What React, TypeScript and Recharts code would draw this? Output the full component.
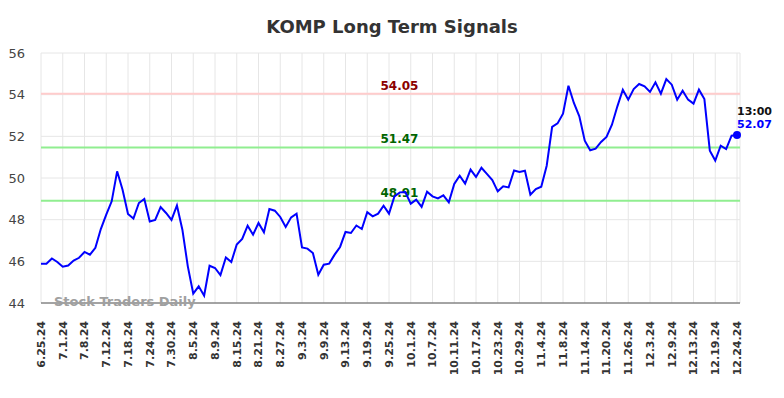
import React from "react";
import {
  LineChart,
  Line,
  XAxis,
  YAxis,
  CartesianGrid,
  ReferenceLine,
} from "recharts";

const tickLabels: string[] = [
  "6.25.24", "7.1.24", "7.8.24", "7.12.24", "7.18.24", "7.24.24", "7.30.24",
  "8.5.24", "8.9.24", "8.15.24", "8.21.24", "8.27.24", "9.3.24", "9.9.24",
  "9.13.24", "9.19.24", "9.25.24", "10.1.24", "10.7.24", "10.11.24",
  "10.17.24", "10.23.24", "10.29.24", "11.4.24", "11.8.24", "11.14.24",
  "11.20.24", "11.26.24", "12.3.24", "12.9.24", "12.13.24", "12.19.24",
  "12.24.24",
];

const prices: number[] = [
  45.89, 45.89, 46.14, 45.97, 45.74, 45.8, 46.04, 46.17, 46.45, 46.32,
  46.65, 47.55, 48.24, 48.88, 50.32, 49.44, 48.27, 48.05, 48.8, 48.99,
  47.91, 47.99, 48.6, 48.32, 47.99, 48.68, 47.52, 45.76, 44.45, 44.8,
  44.35, 45.79, 45.68, 45.34, 46.19, 45.97, 46.81, 47.08, 47.71, 47.28,
  47.84, 47.39, 48.51, 48.43, 48.13, 47.65, 48.11, 48.29, 46.67, 46.61,
  46.4, 45.36, 45.84, 45.89, 46.32, 46.69, 47.41, 47.36, 47.72, 47.55,
  48.36, 48.16, 48.29, 48.67, 48.29, 49.12, 49.31, 49.33, 48.77, 48.96,
  48.61, 49.34, 49.12, 49.02, 49.17, 48.83, 49.71, 50.11, 49.73, 50.4,
  50.05, 50.49, 50.2, 49.9, 49.36, 49.6, 49.55, 50.36, 50.29, 50.35,
  49.2, 49.47, 49.58, 50.59, 52.45, 52.62, 53.09, 54.43, 53.6, 52.96,
  51.79, 51.33, 51.41, 51.73, 51.97, 52.56, 53.44, 54.24, 53.76, 54.27,
  54.51, 54.4, 54.13, 54.59, 54.05, 54.75, 54.48, 53.76, 54.19, 53.76,
  53.57, 54.24, 53.79, 51.31, 50.84, 51.55, 51.39, 52.03, 52.07,
];

const yTicks: number[] = [44, 46, 48, 50, 52, 54, 56];
const resistanceLevel = 54.05;
const supportLevels: number[] = [51.47, 48.91];
const lastTimeLabel = "13:00";
const TICK_STEP = 4;

const data = prices.map((v, i) => ({ i, v }));
const xTicks = tickLabels.map((_, k) => k * TICK_STEP);
const lastIndex = prices.length - 1;

const XTick = (props: any) => {
  const { x, y, payload } = props;
  const label = tickLabels[Math.round(payload.value / TICK_STEP)] ?? "";
  return (
    <g transform={`translate(${x},${y})`}>
      <text
        transform="rotate(-90)"
        textAnchor="end"
        dy="0.35em"
        fontSize={11}
        fontWeight="bold"
        fill="#333"
        fontFamily="DejaVu Sans"
      >
        {label}
      </text>
    </g>
  );
};

const levelLabel = (value: number, color: string) => (props: any) => {
  const vb = props.viewBox || {};
  return (
    <text
      x={vb.x + vb.width / 2 + 9}
      y={vb.y - 4}
      textAnchor="middle"
      fontSize={12}
      fontWeight="bold"
      fill={color}
      fontFamily="DejaVu Sans"
    >
      {value.toFixed(2)}
    </text>
  );
};

const LastDot = (props: any) => {
  const { cx, cy, index } = props;
  if (index !== lastIndex) return <g key={`d${index}`} />;
  return (
    <g key={`d${index}`}>
      <circle cx={cx} cy={cy} r={4} fill="#0000ff" />
      <text
        x={cx}
        y={cy - 20}
        fontSize={11}
        fontWeight="bold"
        fill="#111"
        fontFamily="DejaVu Sans"
      >
        {lastTimeLabel}
      </text>
      <text
        x={cx}
        y={cy - 7}
        fontSize={11}
        fontWeight="bold"
        fill="#0000ff"
        fontFamily="DejaVu Sans"
      >
        {prices[lastIndex].toFixed(2)}
      </text>
    </g>
  );
};

export default function App() {
  return (
    <div
      style={{
        position: "fixed",
        left: 0,
        top: 0,
        width: 784,
        height: 398,
        background: "#fff",
        fontFamily: "DejaVu Sans",
      }}
    >
      <LineChart
        width={784}
        height={398}
        data={data}
        margin={{ top: 53, right: 44, left: 0, bottom: 0 }}
      >
        <CartesianGrid stroke="#e6e6e6" strokeWidth={1} />
        <XAxis
          type="number"
          dataKey="i"
          domain={[0, 128.55]}
          ticks={xTicks}
          interval={0}
          height={95}
          tickLine={false}
          tickSize={6}
          tickMargin={12}
          axisLine={{ stroke: "#555", strokeWidth: 1 }}
          tick={<XTick />}
        />
        <YAxis
          type="number"
          domain={[44, 56]}
          ticks={yTicks}
          width={41}
          axisLine={false}
          tickLine={false}
          tickSize={6}
          tickMargin={10}
          tick={{ fill: "#444", fontSize: 13, fontFamily: "DejaVu Sans" }}
        />
        <ReferenceLine
          y={resistanceLevel}
          stroke="#ffcccc"
          strokeWidth={2}
          label={levelLabel(resistanceLevel, "#8b0000")}
        />
        {supportLevels.map((lv) => (
          <ReferenceLine
            key={lv}
            y={lv}
            stroke="#90ee90"
            strokeWidth={2}
            label={levelLabel(lv, "#006400")}
          />
        ))}
        <Line
          type="linear"
          dataKey="v"
          stroke="#0000ff"
          strokeWidth={2}
          dot={LastDot}
          activeDot={false}
          isAnimationActive={false}
        />
      </LineChart>
      <div
        style={{
          position: "absolute",
          left: 0,
          top: 17,
          width: 784,
          textAlign: "center",
          fontSize: 18,
          lineHeight: "20px",
          fontWeight: "bold",
          color: "#333",
          fontFamily: "DejaVu Sans",
        }}
      >
        KOMP Long Term Signals
      </div>
      <div
        style={{
          position: "absolute",
          left: 54,
          top: 294,
          fontSize: 13,
          lineHeight: "15px",
          fontWeight: "bold",
          color: "#a0a0a0",
          fontFamily: "DejaVu Sans",
          whiteSpace: "nowrap",
        }}
      >
        Stock Traders Daily
      </div>
    </div>
  );
}
